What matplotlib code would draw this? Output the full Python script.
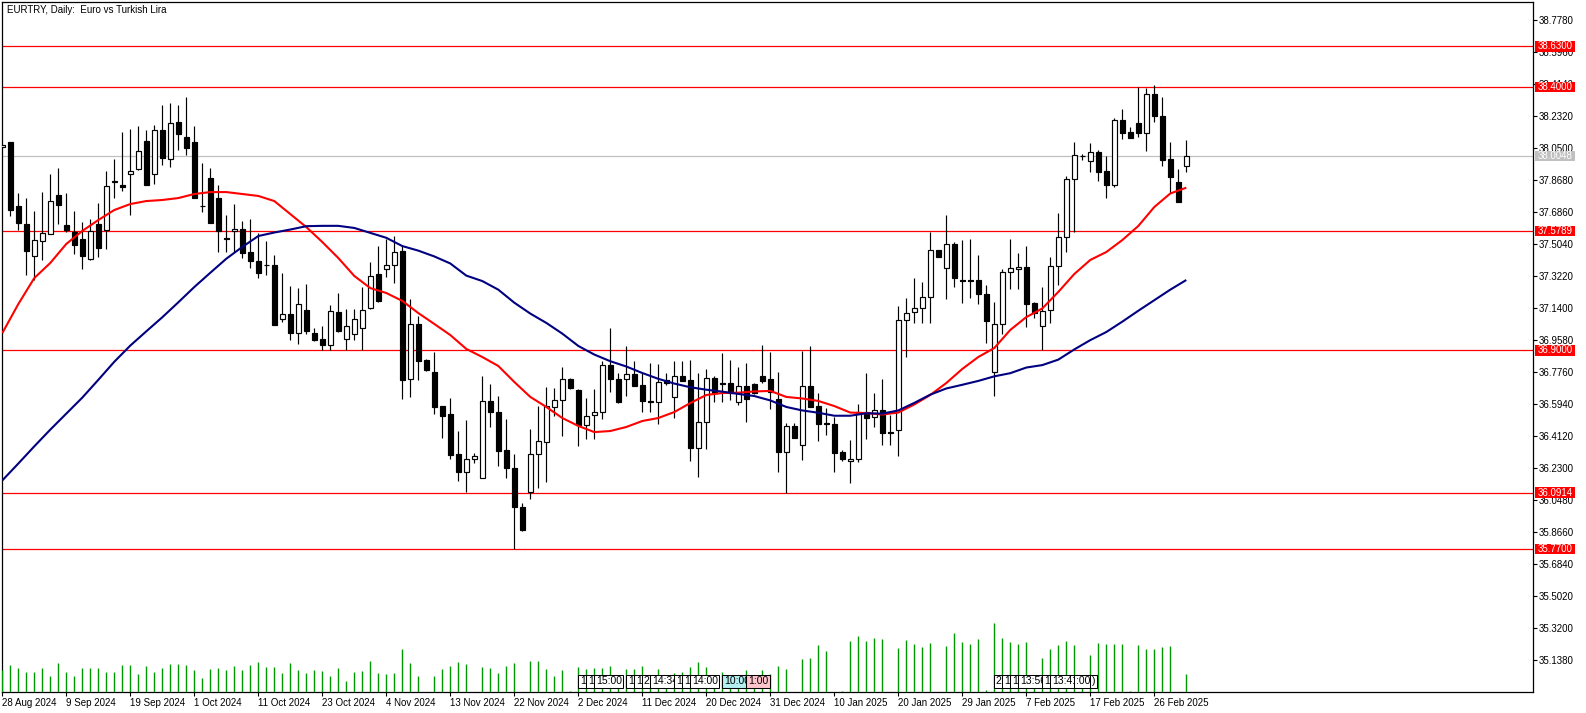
import matplotlib
matplotlib.use('Agg')
import matplotlib.pyplot as plt
from matplotlib.patches import Rectangle
from matplotlib.transforms import blended_transform_factory

plt.rcParams['font.family'] = ['Liberation Sans', 'DejaVu Sans']

title = "EURTRY, Daily:  Euro vs Turkish Lira"

opens = [38.058, 38.086, 37.722, 37.619, 37.439, 37.524, 37.564, 37.784, 37.614, 37.574,
         37.534, 37.419, 37.619, 37.587, 37.860, 37.843, 37.906, 37.934, 38.092, 37.906,
         38.154, 37.991, 38.200, 38.116, 38.086, 37.722, 37.881, 37.767, 37.541, 37.580,
         37.589, 37.458, 37.409, 37.384, 37.384, 37.077, 37.106, 36.998, 37.130, 36.998,
         36.965, 36.933, 37.117, 36.964, 36.992, 37.026, 37.140, 37.333, 37.362, 37.385,
         37.466, 36.736, 37.049, 36.846, 36.776, 36.583, 36.537, 36.311, 36.211, 36.281,
         36.173, 36.611, 36.550, 36.334, 36.232, 36.008, 36.093, 36.310, 36.378, 36.577,
         36.617, 36.736, 36.675, 36.476, 36.531, 36.549, 36.816, 36.736, 36.736, 36.766,
         36.704, 36.610, 36.609, 36.730, 36.637, 36.755, 36.731, 36.347, 36.492, 36.742,
         36.714, 36.715, 36.605, 36.696, 36.711, 36.755, 36.736, 36.622, 36.324, 36.468,
         36.364, 36.696, 36.584, 36.485, 36.480, 36.321, 36.270, 36.281, 36.552, 36.522,
         36.563, 36.434, 36.446, 37.072, 37.117, 37.140, 37.203, 37.470, 37.367, 37.504,
         37.301, 37.302, 37.301, 37.220, 36.776, 37.049, 37.345, 37.362, 37.373, 37.170,
         37.039, 37.129, 37.379, 37.544, 37.874, 38.008, 37.980, 38.027, 37.919, 37.843,
         38.209, 38.141, 38.194, 38.139, 38.357, 38.234, 37.989, 37.857, 37.948]
highs = [38.070, 38.086, 37.797, 37.767, 37.693, 37.801, 37.906, 37.938, 37.797, 37.693,
         37.631, 37.648, 37.739, 37.921, 37.989, 38.143, 38.160, 38.177, 38.154, 38.183,
         38.296, 38.308, 38.296, 38.342, 38.177, 37.966, 37.940, 37.841, 37.671, 37.731,
         37.637, 37.646, 37.567, 37.524, 37.443, 37.341, 37.267, 37.254, 37.278, 37.030,
         37.040, 37.157, 37.227, 37.134, 37.134, 37.261, 37.402, 37.494, 37.532, 37.551,
         37.494, 37.193, 37.096, 36.852, 36.891, 36.584, 36.630, 36.442, 36.505, 36.315,
         36.755, 36.709, 36.641, 36.510, 36.310, 36.031, 36.453, 36.586, 36.691, 36.685,
         36.806, 36.742, 36.681, 36.630, 36.681, 36.839, 37.028, 36.774, 36.926, 36.842,
         36.770, 36.829, 36.822, 36.770, 36.839, 36.839, 36.844, 36.770, 36.793, 36.757,
         36.884, 36.846, 36.808, 36.827, 36.717, 36.930, 36.890, 36.779, 36.486, 36.486,
         36.897, 36.926, 36.657, 36.575, 36.523, 36.334, 36.391, 36.596, 36.770, 36.657,
         36.738, 36.533, 37.153, 37.199, 37.314, 37.290, 37.576, 37.473, 37.671, 37.515,
         37.530, 37.534, 37.443, 37.273, 37.176, 37.364, 37.534, 37.453, 37.493, 37.178,
         37.261, 37.430, 37.682, 37.892, 38.086, 38.019, 38.078, 38.040, 38.008, 38.224,
         38.275, 38.171, 38.400, 38.393, 38.410, 38.342, 38.086, 37.932, 38.097]
lows = [38.050, 37.665, 37.585, 37.329, 37.301, 37.415, 37.562, 37.619, 37.574, 37.447,
        37.366, 37.415, 37.433, 37.479, 37.769, 37.809, 37.671, 37.927, 37.841, 37.849,
        37.957, 37.945, 38.042, 38.014, 37.766, 37.688, 37.625, 37.462, 37.462, 37.462,
        37.428, 37.371, 37.314, 37.331, 37.045, 37.063, 36.958, 36.939, 36.994, 36.955,
        36.903, 36.903, 37.005, 36.903, 36.958, 36.903, 37.136, 37.176, 37.320, 37.282,
        36.624, 36.637, 36.732, 36.785, 36.541, 36.404, 36.281, 36.158, 36.093, 36.258,
        36.173, 36.467, 36.245, 36.173, 35.770, 35.873, 36.054, 36.120, 36.150, 36.529,
        36.415, 36.683, 36.359, 36.398, 36.395, 36.509, 36.662, 36.603, 36.641, 36.698,
        36.550, 36.549, 36.480, 36.702, 36.518, 36.725, 36.273, 36.182, 36.338, 36.605,
        36.605, 36.618, 36.588, 36.495, 36.655, 36.715, 36.566, 36.211, 36.088, 36.404,
        36.277, 36.578, 36.387, 36.419, 36.211, 36.273, 36.145, 36.267, 36.398, 36.465,
        36.364, 36.364, 36.300, 36.861, 37.055, 37.055, 37.058, 37.430, 37.195, 37.261,
        37.172, 37.200, 37.164, 36.944, 36.643, 36.996, 37.251, 37.251, 37.035, 37.087,
        36.903, 37.058, 37.274, 37.462, 37.572, 37.983, 37.915, 37.864, 37.769, 37.830,
        38.105, 38.110, 38.116, 38.036, 38.201, 37.951, 37.797, 37.746, 37.915]
closes = [38.066, 37.699, 37.627, 37.468, 37.528, 37.568, 37.750, 37.727, 37.585, 37.502,
          37.439, 37.580, 37.485, 37.836, 37.862, 37.832, 37.919, 38.035, 37.843, 38.154,
          37.997, 38.194, 38.133, 38.053, 37.769, 37.720, 37.627, 37.578, 37.535, 37.593,
          37.456, 37.411, 37.342, 37.386, 37.047, 37.106, 36.998, 37.163, 37.013, 36.962,
          36.933, 37.125, 37.009, 37.038, 37.077, 37.129, 37.325, 37.182, 37.385, 37.462,
          36.732, 37.049, 36.842, 36.789, 36.580, 36.529, 36.306, 36.211, 36.281, 36.300,
          36.611, 36.549, 36.330, 36.230, 36.008, 35.879, 36.310, 36.385, 36.586, 36.617,
          36.736, 36.688, 36.476, 36.529, 36.549, 36.816, 36.736, 36.605, 36.766, 36.700,
          36.614, 36.608, 36.719, 36.713, 36.755, 36.727, 36.347, 36.492, 36.742, 36.657,
          36.709, 36.657, 36.696, 36.626, 36.657, 36.729, 36.664, 36.324, 36.468, 36.405,
          36.696, 36.580, 36.484, 36.481, 36.317, 36.283, 36.283, 36.552, 36.518, 36.563,
          36.432, 36.430, 37.072, 37.115, 37.140, 37.203, 37.470, 37.430, 37.504, 37.311,
          37.297, 37.297, 37.220, 37.069, 37.051, 37.345, 37.368, 37.373, 37.166, 37.115,
          37.126, 37.379, 37.544, 37.874, 38.010, 38.009, 38.027, 37.917, 37.843, 38.209,
          38.139, 38.110, 38.139, 38.357, 38.234, 37.985, 37.888, 37.746, 38.0048]
volumes = [22, 27.3, 24.3, 20.3, 20.3, 24.3, 16.3, 29.3, 20.3, 16.3,
           24.3, 24.3, 24.3, 20.3, 20.3, 27.3, 27.3, 18.3, 26.3, 20.3,
           24.3, 28.3, 28.3, 27.3, 22.3, 14.3, 23.3, 24.3, 22.3, 26.3,
           22.3, 27.3, 30.3, 25.3, 25.3, 19.3, 29.3, 22.3, 19.3, 22.3,
           21.3, 16.3, 24.3, 11.3, 20.3, 21.3, 31.3, 19.3, 18.3, 19.3,
           43.3, 29.3, 16.3, 0, 16.3, 23.3, 26.3, 30.3, 28.3, 0,
           25.3, 24.3, 19.3, 26.3, 29.3, 0, 31.3, 31.3, 23.3, 16.3,
           22.3, 0.7, 25.3, 23.3, 24.3, 24.3, 26.3, 10, 23.3, 23.3,
           26.3, 10, 23.3, 10, 19.3, 20.3, 25.3, 30.3, 25.3, 10,
           20.3, 10, 10, 22.3, 10, 22.3, 18.3, 26.3, 23.3, 0,
           33.3, 34.3, 47.3, 41.3, 0, 1.3, 51.3, 56.3, 51.3, 54.3,
           53.3, 0, 44.3, 52.3, 48.3, 45.3, 49.3, 0, 46.3, 59.3,
           50.3, 48.3, 53.3, 2.3, 69.3, 54.3, 50.3, 48.3, 50.3, 10,
           34.3, 43.3, 47.3, 51.3, 47.3, 10, 37.3, 49.3, 48.3, 48.3,
           48.3, 1.3, 47.3, 43.3, 43.3, 45.3, 46.3, 0, 18.3]

ma_idx = list(range(0, 149, 2))
ma_fast = [36.999, 37.164, 37.312, 37.398, 37.506, 37.580, 37.642, 37.699, 37.733, 37.750,
           37.756, 37.767, 37.790, 37.801, 37.801, 37.790, 37.779, 37.750, 37.676, 37.602,
           37.517, 37.426, 37.324, 37.255, 37.227, 37.182, 37.113, 37.051, 36.988, 36.909,
           36.863, 36.812, 36.721, 36.636, 36.579, 36.516, 36.471, 36.436, 36.442, 36.465,
           36.499, 36.516, 36.550, 36.601, 36.647, 36.658, 36.660, 36.667, 36.670, 36.636,
           36.627, 36.613, 36.584, 36.547, 36.544, 36.536, 36.547, 36.593, 36.647, 36.715,
           36.795, 36.863, 36.914, 37.017, 37.090, 37.139, 37.233, 37.335, 37.415, 37.460,
           37.528, 37.608, 37.716, 37.793, 37.826]
ma_slow = [36.161, 36.257, 36.355, 36.450, 36.541, 36.632, 36.733, 36.836, 36.928, 37.009,
           37.089, 37.174, 37.261, 37.342, 37.422, 37.489, 37.551, 37.571, 37.588, 37.607,
           37.609, 37.609, 37.597, 37.569, 37.541, 37.494, 37.468, 37.435, 37.395, 37.326,
           37.295, 37.246, 37.172, 37.110, 37.057, 36.996, 36.926, 36.877, 36.839, 36.809,
           36.772, 36.739, 36.712, 36.691, 36.677, 36.666, 36.653, 36.641, 36.616, 36.579,
           36.559, 36.546, 36.529, 36.529, 36.543, 36.541, 36.559, 36.602, 36.649, 36.684,
           36.705, 36.727, 36.753, 36.771, 36.803, 36.817, 36.848, 36.906, 36.959, 37.005,
           37.064, 37.126, 37.186, 37.246, 37.301]

levels = [38.63, 38.40, 37.5789, 36.90, 36.0914, 35.77]
level_labels = ['38.6300', '38.4000', '37.5789', '36.9000', '36.0914', '35.7700']
last_price = 38.0048
last_label = '38.0048'

price_ticks = [38.778, 38.596, 38.414, 38.232, 38.050, 37.868, 37.686, 37.504, 37.322,
               37.140, 36.958, 36.776, 36.594, 36.412, 36.230, 36.048, 35.866, 35.684,
               35.502, 35.320, 35.138]
date_tick_idx = [0, 8, 16, 24, 32, 40, 48, 56, 64, 72, 80, 88, 96, 104, 112, 120, 128, 136, 144]
date_labels = ['28 Aug 2024', '9 Sep 2024', '19 Sep 2024', '1 Oct 2024', '11 Oct 2024',
               '23 Oct 2024', '4 Nov 2024', '13 Nov 2024', '22 Nov 2024', '2 Dec 2024',
               '11 Dec 2024', '20 Dec 2024', '31 Dec 2024', '10 Jan 2025', '20 Jan 2025',
               '29 Jan 2025', '7 Feb 2025', '17 Feb 2025', '26 Feb 2025']

event_bars = [72, 73, 74, 78, 79, 80, 81, 84, 85, 86, 90, 93,
              124, 125, 126, 127, 130, 131, 134, 136]
event_texts = ['1', '1', '15:00', '1', '1', '2', '14:34', '1', '1', '14:00', '10:00', '1:00',
               '2', '1', '1', '13:56', '1', '13:41', ':00', ')']
event_colors = ['white'] * 10 + ['#B4F0F0', '#FFC4CC'] + ['white'] * 8

# ---------------- layout ----------------
W, H = 1586, 713
L, R, T, B = 2, 1533, 2, 692
fig = plt.figure(figsize=(W / 100, H / 100), dpi=100)
fig.patch.set_facecolor('white')
pos = [L / W, (H - B) / H, (R - L) / W, (B - T) / H]
ax = fig.add_axes(pos)
xlim = (-0.0375, 191.34)
ylim = (34.9577, 38.8821)
ax.set_xlim(*xlim)
ax.set_ylim(*ylim)

n = len(opens)
idx = list(range(n))

# levels
for v in levels:
    ax.axhline(v, color='red', lw=0.9, zorder=2)
ax.axhline(last_price, color='#C0C0C0', lw=0.9, zorder=1.9)

# candles
ax.vlines(idx, lows, highs, colors='black', lw=0.85, zorder=3)
bottoms = [min(o, c) for o, c in zip(opens, closes)]
heights = [max(abs(c - o), 0.001) for o, c in zip(opens, closes)]
faces = ['white' if c >= o else 'black' for o, c in zip(opens, closes)]
ax.bar(idx, heights, bottom=bottoms, width=0.62, color=faces, edgecolor='black',
       linewidth=0.85, zorder=4)

# moving averages
ax.plot(ma_idx, ma_fast, color='#FF0000', lw=1.5, zorder=5, solid_capstyle='butt')
ax.plot(ma_idx, ma_slow, color='#000080', lw=1.5, zorder=5, solid_capstyle='butt')

# axes styling
for s in ax.spines.values():
    s.set_color('black')
    s.set_linewidth(0.9)
ax.yaxis.tick_right()
ax.set_yticks(price_ticks)
ax.set_yticklabels([f'{v:.4f}' for v in price_ticks])
ax.tick_params(axis='y', length=3.0, width=0.8, pad=0.8, labelsize=7, colors='black')
ax.set_xticks(date_tick_idx)
ax.set_xticklabels(date_labels, ha='left')
ax.tick_params(axis='x', length=3.0, width=0.8, pad=1.2, labelsize=7, colors='black')

# level price labels on the right
trans = blended_transform_factory(ax.transAxes, ax.transData)
px_per_unit = (B - T) / (ylim[1] - ylim[0])
box_h = 10.5 / px_per_unit
box_x0 = (1535.5 - L) / (R - L)
box_w = 39.5 / (R - L)
for v, s in zip(levels, level_labels):
    ax.add_patch(Rectangle((box_x0, v - box_h / 2), box_w, box_h, transform=trans,
                           facecolor='#FF0000', edgecolor='none', clip_on=False, zorder=6))
    ax.text(box_x0 + box_w / 2, v, s, transform=trans, ha='center', va='center',
            color='white', fontsize=7, clip_on=False, zorder=7)
ax.add_patch(Rectangle((box_x0, last_price - box_h / 2), box_w, box_h, transform=trans,
                       facecolor='#C0C0C0', edgecolor='none', clip_on=False, zorder=6))
ax.text(box_x0 + box_w / 2, last_price, last_label, transform=trans, ha='center',
        va='center', color='white', fontsize=7, clip_on=False, zorder=7)

# title
fig.text(6.7 / W, 1 - 9.8 / H, title, ha='left', va='center', fontsize=7, color='black')

# volumes
ax_vol = fig.add_axes(pos, frameon=False)
ax_vol.set_xlim(*xlim)
ax_vol.set_ylim(0, B - T)
ax_vol.set_xticks([])
ax_vol.set_yticks([])
vx = [i for i, v in zip(idx, volumes) if v > 0]
vv = [v for v in volumes if v > 0]
ax_vol.vlines(vx, 0, vv, colors='#009900', lw=1.0, zorder=2)

# event markers along the bottom
ev_tr = ax_vol.get_xaxis_transform()
ev_y = (B - 681.5) / (B - T)
for b, s, fc in zip(event_bars, event_texts, event_colors):
    ax_vol.text(b + 0.2, ev_y, s, transform=ev_tr, ha='left', va='center', fontsize=7.5,
                color='black', zorder=5,
                bbox=dict(boxstyle='square,pad=0.14', fc=fc, ec='black', lw=0.75))

fig.savefig('out.png', dpi=100)
